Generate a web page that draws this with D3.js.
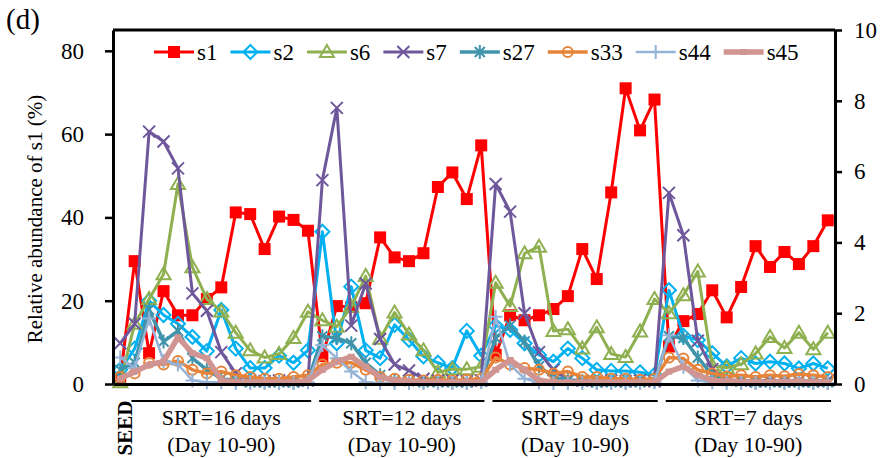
<!DOCTYPE html>
<html>
<head>
<meta charset="utf-8">
<script src="https://cdn.jsdelivr.net/npm/d3@7"></script>
<style>
body { margin: 0; background: #fff; }
svg text { font-family: "Liberation Serif", "Times New Roman", serif; fill: #000; }
</style>
</head>
<body>
<script>
// sample index 0 = SEED, then 4 SRT phases
var groupLabels = ["SRT=16 days", "SRT=12 days", "SRT=9 days", "SRT=7 days"];
var groupSub = "(Day 10-90)";
var groupStart = [1, 14, 26, 38];
var groupEnd = [13, 25, 37, 49];
var leftTicks = [0, 20, 40, 60, 80];
var rightTicks = [0, 2, 4, 6, 8, 10];

// s1 on the left axis (%)
var s1 = [1.2, 29.5, 7.4, 22.3, 16.5, 16.5, 20.4, 23.2, 41.2, 40.8,
          32.4, 40.2, 39.4, 36.8, 6.7, 18.7, 18.5, 19.4, 35.2, 30.4,
          29.5, 31.4, 47.3, 50.8, 44.4, 57.3, 7.0, 16.5, 15.3, 16.5,
          18.0, 21.1, 32.4, 25.2, 46.0, 71.0, 60.9, 68.3, 9.0, 15.1,
          16.8, 22.5, 16.0, 23.3, 33.1, 28.1, 31.7, 28.8, 33.1, 39.3];
// the rest on the right axis (%)
var s2 = [0.4, 1.0, 2.35, 1.95, 1.7, 1.33, 0.93, 2.09, 1.0, 0.45,
          0.45, 0.8, 0.6, 0.95, 4.3, 1.15, 2.75, 0.95, 0.73, 1.67,
          1.25, 0.78, 0.6, 0.45, 1.5, 0.8, 1.65, 1.53, 1.15, 0.82,
          0.63, 1.0, 0.73, 0.4, 0.37, 0.37, 0.33, 0.26, 2.65, 1.36,
          1.24, 0.87, 0.5, 0.73, 0.58, 0.63, 0.58, 0.44, 0.58, 0.44];
var s6 = [0.05, 1.7, 2.4, 3.1, 5.65, 3.3, 2.4, 2.05, 1.45, 0.95,
          0.75, 0.85, 1.3, 2.04, 1.8, 1.62, 2.18, 3.05, 1.28, 2.02,
          1.4, 0.95, 0.33, 0.42, 0.42, 0.49, 2.86, 2.2, 3.69, 3.88,
          1.5, 1.55, 1.0, 1.6, 0.85, 0.76, 1.48, 2.4, 2.0, 2.51,
          3.18, 0.52, 0.46, 0.56, 0.86, 1.33, 1.02, 1.45, 0.98, 1.45];
var s7 = [1.15, 1.7, 7.13, 6.85, 6.09, 2.56, 2.07, 0.9, 0.3, 0.1,
          0.08, 0.1, 0.08, 0.1, 5.76, 7.8, 1.65, 2.84, 1.27, 0.55,
          0.38, 0.15, 0.1, 0.1, 0.08, 0.1, 5.65, 4.87, 2.0, 0.9,
          0.4, 0.12, 0.1, 0.08, 0.1, 0.08, 0.1, 0.08, 5.4, 4.2,
          1.22, 0.42, 0.12, 0.1, 0.08, 0.1, 0.08, 0.1, 0.08, 0.1];
var s27 = [0.4, 0.6, 2.1, 1.2, 1.5, 0.73, 0.4, 0.15, 0.1, 0.05,
           0.05, 0.05, 0.05, 0.08, 1.35, 1.3, 1.15, 0.6, 0.25, 0.1,
           0.08, 0.05, 0.05, 0.05, 0.05, 0.08, 1.3, 1.65, 1.2, 0.5,
           0.2, 0.1, 0.08, 0.05, 0.05, 0.05, 0.05, 0.08, 1.35, 1.3,
           0.75, 0.25, 0.1, 0.08, 0.05, 0.05, 0.05, 0.05, 0.05, 0.05];
var s33 = [0.2, 0.3, 0.6, 0.55, 0.65, 0.4, 0.3, 0.35, 0.25, 0.2,
           0.15, 0.15, 0.2, 0.25, 0.55, 0.6, 0.6, 0.4, 0.2, 0.15,
           0.12, 0.1, 0.12, 0.1, 0.12, 0.15, 0.75, 0.55, 0.45, 0.4,
           0.3, 0.35, 0.2, 0.2, 0.15, 0.15, 0.12, 0.15, 0.75, 0.72,
           0.4, 0.3, 0.22, 0.25, 0.2, 0.25, 0.22, 0.28, 0.25, 0.2];
var s44 = [0.75, 0.45, 1.85, 0.65, 0.55, 0.1, 0.05, 0.05, 0.03, 0.03,
           0.03, 0.03, 0.03, 0.05, 1.1, 0.73, 0.35, 0.05, 0.03, 0.03,
           0.03, 0.03, 0.03, 0.03, 0.03, 0.05, 1.9, 0.55, 0.15, 0.05,
           0.03, 0.03, 0.03, 0.03, 0.03, 0.03, 0.03, 0.05, 1.38, 0.49,
           0.1, 0.05, 0.03, 0.03, 0.03, 0.03, 0.03, 0.03, 0.03, 0.03];
var s45 = [0.15, 0.35, 0.54, 0.63, 1.32, 0.87, 0.73, 0.1, 0.05, 0.05,
           0.05, 0.05, 0.05, 0.1, 0.4, 0.63, 0.77, 0.49, 0.2, 0.1,
           0.08, 0.05, 0.05, 0.05, 0.05, 0.05, 0.4, 0.68, 0.4, 0.1,
           0.06, 0.05, 0.05, 0.05, 0.05, 0.05, 0.05, 0.05, 0.35, 0.49,
           0.25, 0.1, 0.08, 0.06, 0.05, 0.05, 0.06, 0.08, 0.06, 0.05];

var w = 893;
var h = 458;
var pL = 113, pR = 835, pT = 30, pB = 384;
var serif = "Liberation Serif";

var svg = d3.select("body")
    .append("svg")
    .attr("width", w)
    .attr("height", h);

var x = d3.scaleLinear().domain([-0.5, s1.length - 0.5]).range([pL, pR]);
var yL = d3.scaleLinear().domain([0, 85]).range([pB, pT]);
var yR = d3.scaleLinear().domain([0, 10]).range([pB, pT]);

var series = [
    {name: "s1", values: s1, color: "#FF0000", mark: "square", axis: yL, lw: 3},
    {name: "s2", values: s2, color: "#00B0F0", mark: "diamond", axis: yR, lw: 3},
    {name: "s6", values: s6, color: "#8FB050", mark: "triangle", axis: yR, lw: 3},
    {name: "s7", values: s7, color: "#6F579B", mark: "x", axis: yR, lw: 3},
    {name: "s27", values: s27, color: "#3F94AB", mark: "star", axis: yR, lw: 3.5},
    {name: "s33", values: s33, color: "#E5843A", mark: "circle", axis: yR, lw: 3.5},
    {name: "s44", values: s44, color: "#95B3D7", mark: "plus", axis: yR, lw: 2.5},
    {name: "s45", values: s45, color: "#D09593", mark: "dash", axis: yR, lw: 5.5}
];

var paths = {
    diamond: "M0,-7L7,0L0,7L-7,0Z",
    triangle: "M0,-7L7,5L-7,5Z",
    x: "M-6,-6L6,6M-6,6L6,-6",
    star: "M-5,-5L5,5M-5,5L5,-5M0,-7L0,7",
    plus: "M-7,0L7,0M0,-7L0,7"
};

function drawMarker(g, type, color) {
    if (type == "square") {
        g.append("rect").attr("x", -6).attr("y", -6).attr("width", 12).attr("height", 12)
            .attr("fill", color);
    } else if (type == "circle") {
        g.append("circle").attr("r", 5).attr("fill", "none")
            .attr("stroke", color).attr("stroke-width", 2);
    } else if (type == "dash") {
        g.append("rect").attr("x", -3.5).attr("y", -3).attr("width", 7).attr("height", 6)
            .attr("fill", color);
    } else {
        g.append("path").attr("d", paths[type]).attr("fill", "none")
            .attr("stroke", color).attr("stroke-width", 2);
    }
}

// series
series.forEach(function(s) {
    var line = d3.line()
        .x(function(d, i) { return x(i); })
        .y(function(d) { return s.axis(d); });
    var g = svg.append("g");
    g.append("path")
        .datum(s.values)
        .attr("d", line)
        .attr("fill", "none")
        .attr("stroke", s.color)
        .attr("stroke-width", s.lw)
        .attr("stroke-linejoin", "round");
    g.selectAll("g.m")
        .data(s.values)
        .enter()
        .append("g")
        .attr("class", "m")
        .attr("transform", function(d, i) {
            return "translate(" + x(i) + "," + s.axis(d) + ")";
        })
        .each(function() { drawMarker(d3.select(this), s.mark, s.color); });
});

// axes and frame
var axL = svg.append("g")
    .attr("transform", "translate(" + pL + ",0)")
    .call(d3.axisLeft(yL).tickValues(leftTicks).tickSize(8).tickSizeOuter(0).tickPadding(21));
var axR = svg.append("g")
    .attr("transform", "translate(" + pR + ",0)")
    .call(d3.axisRight(yR).tickValues(rightTicks).tickSize(7).tickSizeOuter(0).tickPadding(12));
var axB = svg.append("g")
    .attr("transform", "translate(0," + pB + ")")
    .call(d3.axisBottom(x).tickValues([]).tickSizeOuter(0));
[axL, axR, axB].forEach(function(a) {
    a.attr("font-family", serif).attr("font-size", 23);
    a.selectAll("path.domain").attr("stroke", "#000").attr("stroke-width", 3);
    a.selectAll(".tick line").attr("stroke", "#000").attr("stroke-width", 2.5);
    a.selectAll(".tick text").attr("fill", "#000");
});
svg.append("line")
    .attr("x1", pL).attr("x2", pR)
    .attr("y1", pT).attr("y2", pT)
    .attr("stroke", "#000").attr("stroke-width", 3);

// legend
var lx = 154;
series.forEach(function(s) {
    var g = svg.append("g").attr("transform", "translate(" + lx + ",52)");
    g.append("line").attr("x1", 0).attr("x2", 40)
        .attr("stroke", s.color).attr("stroke-width", s.lw);
    var m = g.append("g").attr("transform", "translate(20,0)");
    drawMarker(m, s.mark, s.color);
    var t = g.append("text").attr("x", 43).attr("y", 8)
        .style("font-family", serif).style("font-size", "23px").text(s.name);
    lx += 43 + t.node().getComputedTextLength() + 13;
});

// titles
svg.append("text").attr("x", 6).attr("y", 29)
    .style("font-family", serif).style("font-size", "29px").text("(d)");
svg.append("text")
    .attr("transform", "translate(42,219) rotate(-90)")
    .attr("text-anchor", "middle")
    .style("font-family", serif)
    .style("font-size", "21px")
    .text("Relative abundance of s1 (%)");

// category labels under the axis, split halfway between phases
groupLabels.forEach(function(lab, k) {
    var x1 = x(groupStart[k] - 0.5) + 4;
    var x2 = x(groupEnd[k] + 0.5) - 4;
    svg.append("line").attr("x1", x1).attr("x2", x2)
        .attr("y1", 401).attr("y2", 401)
        .attr("stroke", "#000").attr("stroke-width", 2);
    var cx = (x1 + x2) / 2;
    svg.append("text").attr("x", cx).attr("y", 425)
        .attr("text-anchor", "middle").style("font-family", serif)
        .style("font-size", "22px").text(lab);
    svg.append("text").attr("x", cx).attr("y", 452)
        .attr("text-anchor", "middle").style("font-family", serif)
        .style("font-size", "22px").text(groupSub);
});
svg.append("text")
    .attr("transform", "translate(" + (x(0) + 12) + ",428) rotate(-90)")
    .attr("text-anchor", "middle")
    .style("font-family", serif)
    .style("font-size", "21px")
    .style("font-weight", "bold")
    .text("SEED");
</script>
</body>
</html>
